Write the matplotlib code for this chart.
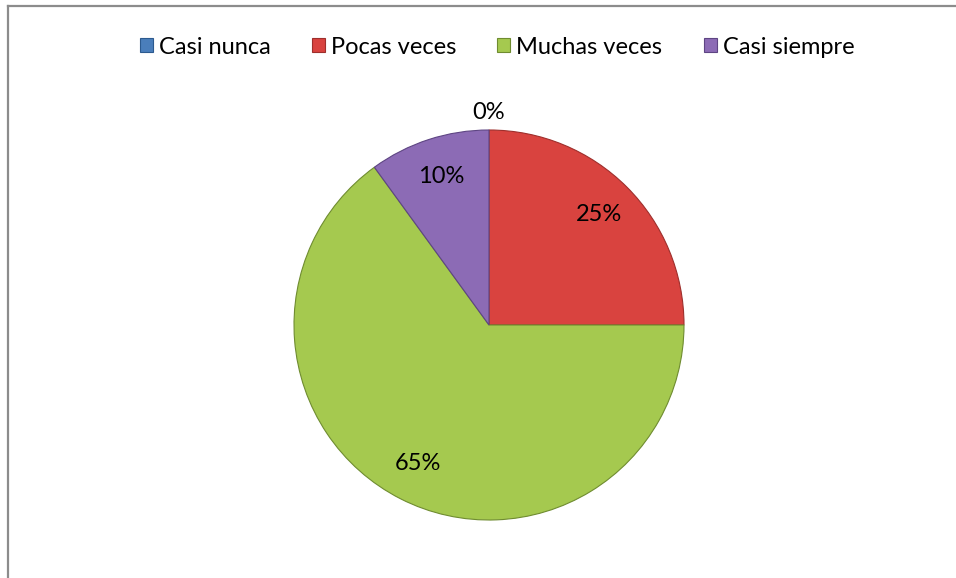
import matplotlib
matplotlib.use("Agg")
import matplotlib.pyplot as plt
from matplotlib.patches import Patch
from matplotlib.lines import Line2D
import numpy as np

plt.rcParams['font.family'] = ['Lato', 'DejaVu Sans']

# ---------- données ----------
categories = ["Casi nunca", "Pocas veces", "Muchas veces", "Casi siempre"]
values = [0, 25, 65, 10]
colors = ["#4A7EBB", "#D9433F", "#A5C94F", "#8C6BB5"]
edges = ["#2C5A8F", "#9E2F2C", "#6F8C30", "#5E4583"]

W, H = 956, 578
fig = plt.figure(figsize=(W / 100, H / 100), dpi=100)

# cadre (haut + gauche)
fig.add_artist(Line2D([8 / W, 1], [1 - 6 / H, 1 - 6 / H], color="#8C8C8C", lw=1.6))
fig.add_artist(Line2D([8 / W, 8 / W], [0, 1 - 6 / H], color="#8C8C8C", lw=1.6))

# ---------- camembert ----------
cx, cy, r = 489, H - 325, 195
ax = fig.add_axes([(cx - r) / W, (cy - r) / H, 2 * r / W, 2 * r / H])
wedges, texts, autotexts = ax.pie(
    values, colors=colors, startangle=90, counterclock=False,
    autopct="%1.0f%%", pctdistance=0.8, radius=1,
    wedgeprops=dict(linewidth=0.8),
    textprops=dict(fontsize=17, color="black"))
for w, ec in zip(wedges, edges):
    w.set_edgecolor(ec)
ax.set_xlim(-1, 1)
ax.set_ylim(-1, 1)
ax.set_aspect("equal")
ax.axis("off")

# étiquette 0% poussée à l'extérieur
for w, t, v in zip(wedges, autotexts, values):
    if v == 0:
        ang = np.deg2rad((w.theta1 + w.theta2) / 2)
        t.set_position((1.09 * np.cos(ang), 1.09 * np.sin(ang)))
    t.set_clip_on(False)

# ---------- légende ----------
handles = [Patch(facecolor=c, edgecolor=e, lw=0.8) for c, e in zip(colors, edges)]
fig.legend(handles, categories, loc="center", ncol=4,
           bbox_to_anchor=(497 / W, 1 - 47 / H), frameon=False, fontsize=17,
           handlelength=0.55, handleheight=0.55, handletextpad=0.25,
           columnspacing=1.75)

fig.savefig("out.png", dpi=100, facecolor="white")
